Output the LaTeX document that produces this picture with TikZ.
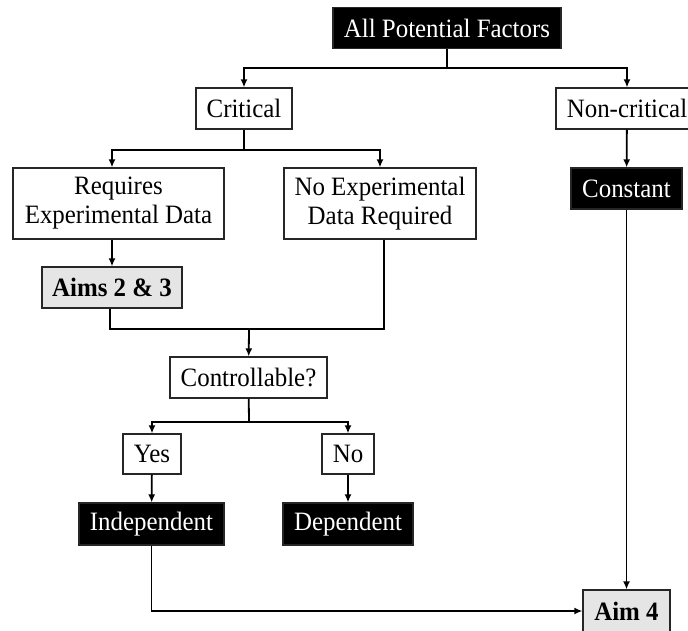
\documentclass[tikz,border=0pt]{standalone}
\usepackage{fontspec}
\setmainfont[FakeStretch=0.94]{Liberation Serif}
\usetikzlibrary{arrows.meta}
\begin{document}
\begin{tikzpicture}[x=1pt,y=-1pt,
  base/.style={draw=black!85,line width=1.2pt,inner sep=0pt,align=center,
    font=\fontsize{26.5}{29}\selectfont},
  wbox/.style={base,fill=white},
  bbox/.style={base,fill=black,text=white},
  gbox/.style={base,fill=black!10,font=\fontsize{26.5}{29}\selectfont\bfseries},
  conn/.style={line width=1.8pt,draw=black},
  arr/.style={conn,-{Latex[length=8pt,width=7pt]}}]
\useasboundingbox (0,0) rectangle (688,630);
\fill[white] (0,0) rectangle (688,630);

\node[bbox,minimum width=228pt,minimum height=41pt] (apf) at (447,28) {All Potential Factors};
\node[wbox,minimum width=96pt,minimum height=41pt] (crit) at (244,108.5) {Critical};
\node[wbox,minimum width=142pt,minimum height=41pt] (noncrit) at (627,108.5) {Non-critical};
\node[wbox,minimum width=211pt,minimum height=71pt] (req) at (118.5,203.5) {Requires\\Experimental Data};
\node[wbox,minimum width=192pt,minimum height=71pt] (noexp) at (380,203.5) {No Experimental\\Data Required};
\node[bbox,minimum width=111pt,minimum height=41pt] (const) at (626.5,188.5) {Constant};
\node[gbox,minimum width=140pt,minimum height=41pt] (aims) at (112,287.5) {Aims 2 \& 3};
\node[wbox,minimum width=157pt,minimum height=41pt] (ctrl) at (248.5,377.5) {Controllable?};
\node[wbox,minimum width=58pt,minimum height=40pt] (yes) at (152,454) {Yes};
\node[wbox,minimum width=52pt,minimum height=40pt] (no) at (348,454) {No};
\node[bbox,minimum width=145pt,minimum height=42pt] (indep) at (151.5,524) {Independent};
\node[bbox,minimum width=130pt,minimum height=42pt] (dep) at (348,524) {Dependent};
\node[gbox,minimum width=87pt,minimum height=42pt] (aim4) at (626.5,611) {Aim 4};

\coordinate (j1) at (447,68);
\draw[conn] (apf) -- (j1);
\draw[arr] (j1) -| (crit);
\draw[arr] (j1) -| (noncrit);

\coordinate (j2) at (244,150);
\draw[conn] (crit) -- (j2);
\draw[arr] (j2) -| ([xshift=-6.5pt]req.north);
\draw[arr] (j2) -| (noexp);

\draw[arr] ([xshift=-6.5pt]req.south) -- (aims);
\draw[arr] (noncrit) -- (const);

\coordinate (j3) at (249,329);
\draw[conn] ([xshift=-2pt]aims.south) |- (j3) -| ([xshift=4pt]noexp.south);
\draw[arr] (j3) -- (ctrl);

\coordinate (j4) at (249,422);
\draw[conn] (ctrl) -- (j4);
\draw[arr] (j4) -| (yes);
\draw[arr] (j4) -| (no);

\draw[arr] (yes) -- (indep);
\draw[arr] (no) -- (dep);

\draw[arr] (indep.south) |- (aim4.west);
\draw[arr] (const) -- (aim4);
\end{tikzpicture}
\end{document}
